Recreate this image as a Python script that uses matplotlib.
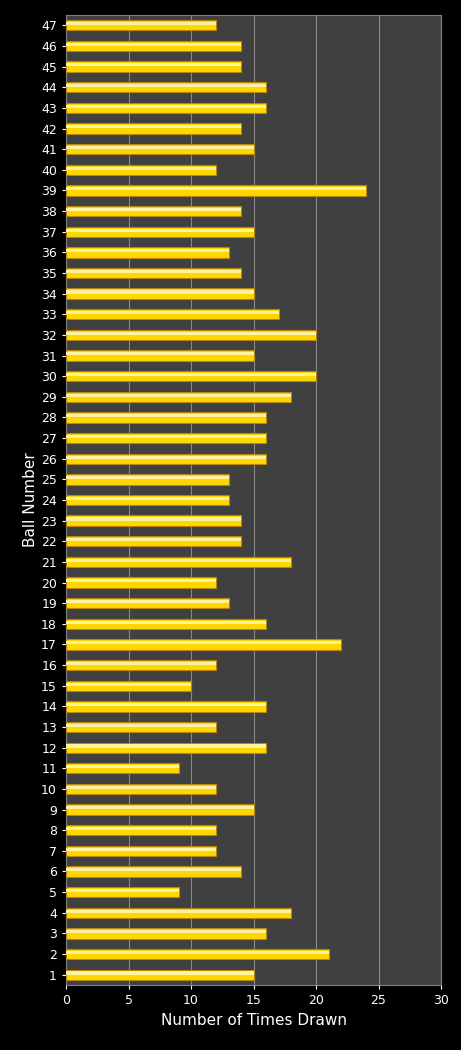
import matplotlib
matplotlib.use("Agg")
import matplotlib.pyplot as plt
import numpy as np

balls = list(range(1, 48))
counts = [15,21,16,18,9,14,12,12,15,12,9,16,12,16,10,12,22,16,13,12,18,14,14,13,13,16,16,16,18,20,15,20,17,15,14,13,15,14,24,12,15,14,16,16,14,14,12]
xticks = [0,5,10,15,20,25,30]

fig = plt.figure(figsize=(4.61,10.5), dpi=100, facecolor="black")
ax = fig.add_axes([66/461, 1-985/1050, 375/461, 970/1050])
ax.set_facecolor("#404040")
y = np.arange(len(balls))
ax.barh(y, counts, height=0.5, color="#FFD700", edgecolor="#B8860B", linewidth=0.8, zorder=3)
ax.barh(y+0.08, counts, height=0.15, color="#FFF3A0", linewidth=0, zorder=4)
ax.set_xlim(0,30)
ax.set_ylim(-0.5, len(balls)-0.5)
ax.set_yticks(y)
ax.set_yticklabels([str(b) for b in balls], color="white", fontsize=9)
ax.set_xticks(xticks)
ax.set_xticklabels([str(t) for t in xticks], color="white", fontsize=9)
ax.xaxis.grid(True, color="#8a8a8a", linewidth=0.8, zorder=0)
for s in ax.spines.values():
    s.set_color("#808080")
ax.tick_params(colors="white", length=3)
ax.set_xlabel("Number of Times Drawn", color="white", fontsize=11)
ax.set_ylabel("Ball Number", color="white", fontsize=11, labelpad=2)
fig.savefig("out.png", facecolor="black")
